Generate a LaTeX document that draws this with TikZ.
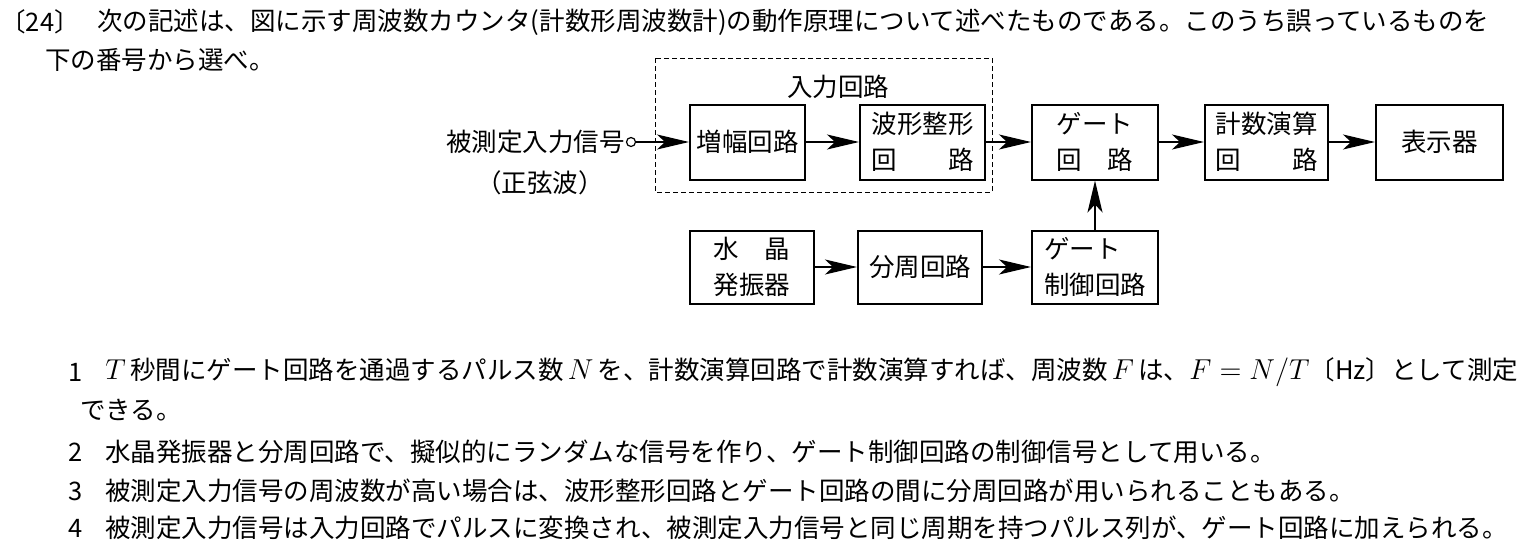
\documentclass[tikz,border=0pt]{standalone}
\usepackage{fontspec}
\setmainfont{Noto Sans CJK JP}
\usetikzlibrary{arrows.meta}
\newcommand\myfs{\fontsize{12.75}{18}\selectfont}
\newcommand\mymath[1]{{\fontsize{15}{18}\selectfont$#1$}}
\tikzset{
  blk/.style={draw, line width=1pt, minimum height=37.5pt, inner sep=0pt, align=center, font=\myfs},
  arr/.style={line width=0.9pt, -{Stealth[length=16pt,width=7.5pt,inset=4pt]}},
  txt/.style={anchor=west, inner sep=0pt, font=\myfs},
}
\begin{document}
\begin{tikzpicture}[x=0.5pt,y=-0.5pt]
\useasboundingbox (0,0) rectangle (1531,557);
% header
\node[txt] (h0) at (0,22) {〔24〕};
\node[txt] (h1) at (97,22) {次の記述は、図に示す周波数カウンタ(計数形周波数計)の動作原理について述べたものである。このうち誤っているものを};
\node[txt] (h2) at (45,60) {下の番号から選べ。};
% input circuit group
\draw[dashed, line width=0.5pt, dash pattern=on 2.5pt off 1.5pt] (655,58) rectangle (992,192);
\node[font=\myfs, inner sep=0pt] (grp) at (838,87) {入力回路};
% blocks
\node[blk, minimum width=57.5pt] (amp) at (747.5,142) {増幅回路};
\node[blk, minimum width=62.5pt] (wave) at (922.5,142) {波形整形\\\hbox to 4em{回\hfill 路}};
\node[blk, minimum width=63pt] (gate) at (1095,142) {ゲート\\\hbox to 3em{回\hfill 路}};
\node[blk, minimum width=61.5pt] (calc) at (1266.5,142) {計数演算\\\hbox to 4em{回\hfill 路}};
\node[blk, minimum width=63.5pt] (disp) at (1439.5,142) {表示器};
\node[blk, minimum width=62pt, minimum height=36.5pt] (xtal) at (752,267) {\hbox to 3em{水\hfill 晶}\\発振器};
\node[blk, minimum width=62pt, minimum height=36.5pt] (div) at (920,267) {分周回路};
\node[blk, minimum width=63pt, minimum height=36.5pt, align=left] (gctl) at (1095,267) {ゲート\\制御回路};
% input
\node[circle, draw, line width=0.6pt, inner sep=0pt, minimum size=4.5pt] (in) at (631,142) {};
\node[anchor=east, inner sep=0pt, font=\myfs] (lbl) at (625,142) {被測定入力信号};
\node[inner sep=0pt, font=\myfs] (sine) at (540,183) {（正弦波）};
% connectors
\draw[arr] (in.east) -- (amp.west);
\draw[arr] (amp) -- (wave);
\draw[arr] (wave) -- (gate);
\draw[arr] (gate) -- (calc);
\draw[arr] (calc) -- (disp);
\draw[arr] (xtal) -- (div);
\draw[arr] (div) -- (gctl);
\draw[arr] (gctl) -- (gate);
% statements
\node[txt] (n1) at (68,372) {1};
\node[txt] (s1) at (105,372) {\hbox to 704pt{\mymath{T}\,秒間にゲート回路を通過するパルス数\,\mymath{N}\,を、計数演算回路で計数演算すれば、周波数\,\mymath{F}\,は、\mymath{F = N/T}〔Hz〕として測定}};
\node[txt] (s1b) at (80,410) {できる。};
\node[txt] (n2) at (68,452) {2};
\node[txt] (s2) at (105,452) {水晶発振器と分周回路で、擬似的にランダムな信号を作り、ゲート制御回路の制御信号として用いる。};
\node[txt] (n3) at (68,491) {3};
\node[txt] (s3) at (105,491) {被測定入力信号の周波数が高い場合は、波形整形回路とゲート回路の間に分周回路が用いられることもある。};
\node[txt] (n4) at (68,528) {4};
\node[txt] (s4) at (105,528) {被測定入力信号は入力回路でパルスに変換され、被測定入力信号と同じ周期を持つパルス列が、ゲート回路に加えられる。};
\end{tikzpicture}
\end{document}
